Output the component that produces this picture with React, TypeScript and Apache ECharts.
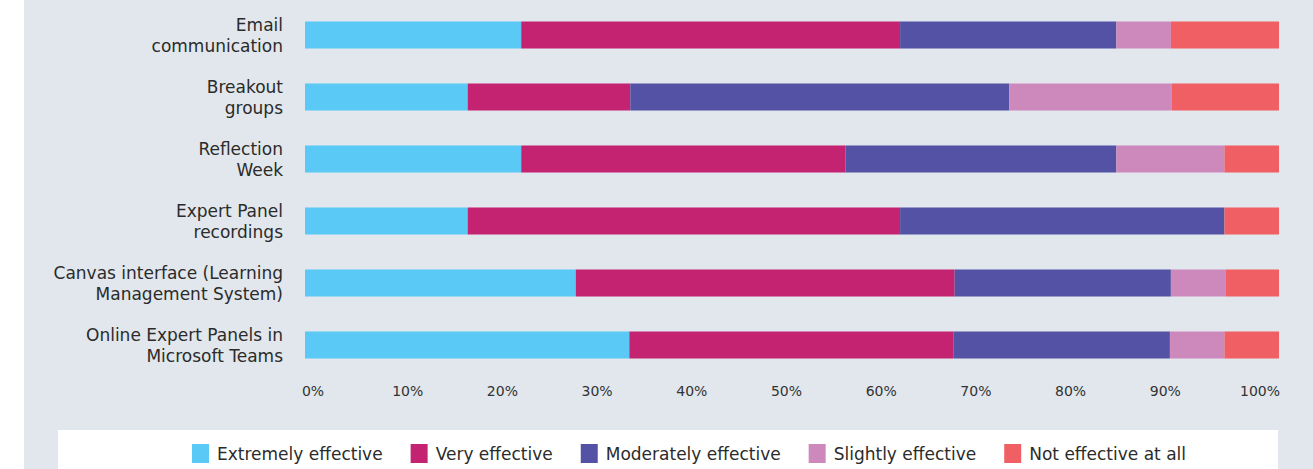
import React, { useEffect, useRef } from "react";
import * as echarts from "echarts";

const categories = [
  "Email\ncommunication",
  "Breakout\ngroups",
  "Reflection\nWeek",
  "Expert Panel\nrecordings",
  "Canvas interface (Learning\nManagement System)",
  "Online Expert Panels in\nMicrosoft Teams",
];

const seriesNames = [
  "Extremely effective",
  "Very effective",
  "Moderately effective",
  "Slightly effective",
  "Not effective at all",
];

const extremely = [22.2, 16.7, 22.2, 16.7, 27.8, 33.3];
const very = [38.9, 16.7, 33.3, 44.4, 38.9, 33.3];
const moderately = [22.2, 38.9, 27.8, 33.3, 22.2, 22.2];
const slightly = [5.6, 16.7, 11.1, 0, 5.6, 5.6];
const notEffective = [11.1, 11.1, 5.6, 5.6, 5.6, 5.6];

const tickValues = [0, 10, 20, 30, 40, 50, 60, 70, 80, 90, 100];

const colors = ["#5bc9f6", "#c42372", "#5352a4", "#cd89bb", "#ef5f64"];
const FONT = "DejaVu Sans";

export default function App() {
  const ref = useRef<HTMLDivElement>(null);

  useEffect(() => {
    if (!ref.current) return;
    const chart = echarts.init(ref.current, null, { renderer: "svg" });
    const values = [extremely, very, moderately, slightly, notEffective];

    chart.setOption({
      animation: false,
      color: colors,
      textStyle: { fontFamily: FONT },
      graphic: [
        {
          type: "rect",
          left: 24,
          top: 0,
          shape: { width: 1289, height: 469 },
          style: { fill: "#e1e7ec" },
          z: -10,
        },
        {
          type: "rect",
          left: 58,
          top: 430,
          shape: { width: 1220, height: 39 },
          style: { fill: "#ffffff" },
          z: -9,
        },
      ],
      legend: {
        left: 187,
        top: 439,
        icon: "rect",
        itemWidth: 17,
        itemHeight: 19,
        itemGap: 28,
        data: seriesNames,
        textStyle: {
          fontFamily: FONT,
          fontSize: 17,
          color: "#2b2b2b",
          padding: [0, 0, 0, 3],
        },
      },
      grid: [
        { left: 305, right: 34, top: 4, height: 372 },
        { left: 313, right: 53, top: 370, height: 10 },
      ],
      xAxis: [
        {
          gridIndex: 0,
          type: "value",
          min: 0,
          max: 100,
          show: false,
        },
        {
          gridIndex: 1,
          type: "value",
          min: 0,
          max: 100,
          interval: 10,
          position: "bottom",
          axisLine: { show: false },
          axisTick: { show: false },
          splitLine: { show: false },
          axisLabel: {
            margin: 4,
            fontFamily: FONT,
            fontSize: 14,
            color: "#333333",
            customValues: tickValues,
            formatter: (v: number) => `${v}%`,
          },
        },
      ],
      yAxis: [
        {
          gridIndex: 0,
          type: "category",
          data: categories,
          inverse: true,
          axisLine: { show: false },
          axisTick: { show: false },
          splitLine: { show: false },
          axisLabel: {
            margin: 22,
            fontFamily: FONT,
            fontSize: 17,
            lineHeight: 21,
            color: "#2b2b2b",
            align: "right",
          },
        },
        { gridIndex: 1, type: "value", show: false },
      ],
      series: seriesNames.map((name, i) => ({
        name,
        type: "bar",
        stack: "total",
        xAxisIndex: 0,
        yAxisIndex: 0,
        barWidth: 27,
        data: values[i],
        itemStyle: { color: colors[i] },
      })),
    });

    return () => chart.dispose();
  }, []);

  return (
    <div
      ref={ref}
      style={{ position: "fixed", left: 0, top: 0, width: 1313, height: 469, background: "#ffffff" }}
    />
  );
}
